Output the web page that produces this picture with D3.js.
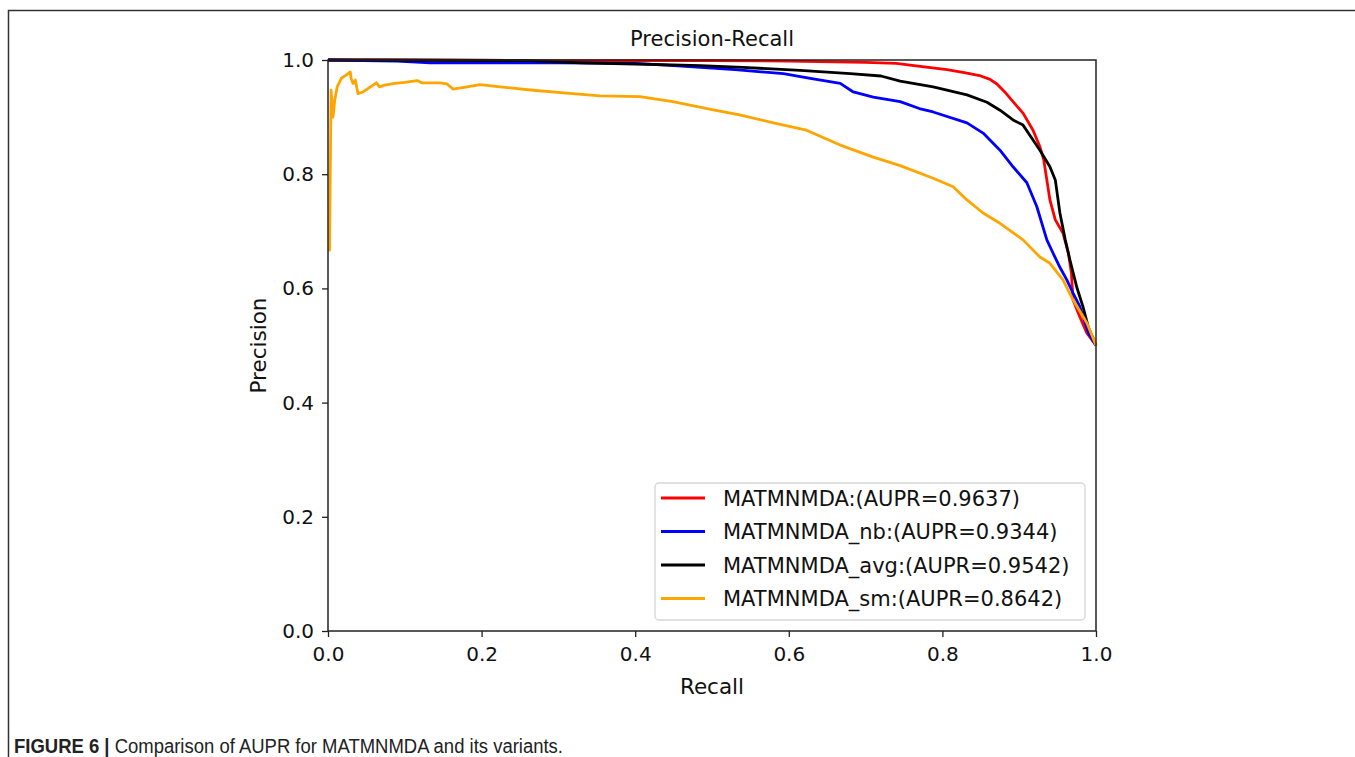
<!DOCTYPE html>
<html>
<head>
<meta charset="utf-8">
<script src="https://cdn.jsdelivr.net/npm/d3@7"></script>
<style>
  body { margin: 0; background: #fff; }
  svg { display: block; }
  .tick text { font-family: "DejaVu Sans", sans-serif; font-size: 20px; fill: #111; }
  .tick line { stroke: #222; stroke-width: 1.3; }
</style>
</head>
<body>
<div class="chart"></div>
<script>
// recall / precision pairs
const matmnmda = [
  [0, 1.0], [0.1, 1.0], [0.3, 0.999], [0.5, 0.999], [0.6, 0.998], [0.7, 0.996], [0.74, 0.994],
  [0.763, 0.99], [0.806, 0.983], [0.832, 0.977], [0.85, 0.972], [0.862, 0.966], [0.871, 0.958],
  [0.882, 0.943], [0.892, 0.927], [0.905, 0.907], [0.918, 0.877], [0.927, 0.848], [0.932, 0.825],
  [0.936, 0.79], [0.94, 0.755], [0.947, 0.72], [0.957, 0.697], [0.964, 0.662], [0.968, 0.627],
  [0.97, 0.58], [0.979, 0.55], [0.988, 0.522], [1.0, 0.5]
];
const matmnmdaNb = [
  [0, 1.0], [0.09, 0.998], [0.133, 0.995], [0.3, 0.995], [0.4, 0.994], [0.45, 0.99], [0.5, 0.986],
  [0.53, 0.983], [0.593, 0.976], [0.628, 0.968], [0.667, 0.959], [0.684, 0.944], [0.71, 0.935],
  [0.745, 0.927], [0.77, 0.915], [0.788, 0.909], [0.832, 0.89], [0.853, 0.872], [0.875, 0.842],
  [0.892, 0.813], [0.91, 0.785], [0.923, 0.743], [0.936, 0.685], [0.944, 0.662], [0.953, 0.637],
  [0.962, 0.615], [0.97, 0.592], [0.979, 0.568], [0.99, 0.522], [1.0, 0.5]
];
const matmnmdaAvg = [
  [0, 1.0], [0.05, 1.0], [0.26, 0.999], [0.33, 0.995], [0.4, 0.993], [0.485, 0.99], [0.54, 0.987],
  [0.615, 0.982], [0.68, 0.976], [0.72, 0.972], [0.745, 0.963], [0.788, 0.953], [0.832, 0.939],
  [0.858, 0.926], [0.875, 0.912], [0.892, 0.895], [0.905, 0.886], [0.918, 0.86], [0.927, 0.842],
  [0.94, 0.813], [0.947, 0.79], [0.953, 0.732], [0.96, 0.685], [0.966, 0.65], [0.975, 0.602],
  [0.983, 0.568], [0.99, 0.532], [0.997, 0.51], [1.0, 0.5]
];
const matmnmdaSm = [
  [0, 0.667], [0.002, 0.667], [0.004, 0.947], [0.0065, 0.9], [0.0087, 0.929], [0.012, 0.953],
  [0.0174, 0.968], [0.024, 0.974], [0.029, 0.979], [0.03, 0.968], [0.0326, 0.959], [0.0356, 0.965],
  [0.039, 0.941], [0.0456, 0.944], [0.052, 0.95], [0.0586, 0.956], [0.063, 0.96], [0.067, 0.953],
  [0.0738, 0.956], [0.087, 0.959], [0.1, 0.961], [0.116, 0.964], [0.122, 0.96], [0.146, 0.96],
  [0.155, 0.958], [0.163, 0.949], [0.181, 0.953], [0.198, 0.957], [0.224, 0.953], [0.267, 0.947],
  [0.311, 0.942], [0.354, 0.937], [0.406, 0.936], [0.449, 0.927], [0.5, 0.913], [0.536, 0.904],
  [0.58, 0.89], [0.623, 0.877], [0.667, 0.851], [0.71, 0.83], [0.745, 0.815], [0.788, 0.793],
  [0.814, 0.778], [0.832, 0.755], [0.853, 0.732], [0.875, 0.714], [0.905, 0.685], [0.927, 0.655],
  [0.94, 0.644], [0.957, 0.615], [0.97, 0.58], [0.988, 0.54], [1.0, 0.5]
];

const seriesNames = ["MATMNMDA", "MATMNMDA_nb", "MATMNMDA_avg", "MATMNMDA_sm"];
const auprValues = [0.9637, 0.9344, 0.9542, 0.8642];
const seriesData = [matmnmda, matmnmdaNb, matmnmdaAvg, matmnmdaSm];
const seriesColors = ["#ff0000", "#0000ff", "#000000", "#ffa500"];
const tickValues = [0, 0.2, 0.4, 0.6, 0.8, 1.0];

const width = 1355, height = 757;
const margin = { left: 328, right: 1096, top: 60, bottom: 631 };

const svg = d3.select(".chart").append("svg")
    .attr("width", width)
    .attr("height", height);

// figure frame (top + left edge only)
svg.append("path")
    .attr("d", `M8.5,${height} V10.5 H${width}`)
    .attr("fill", "none")
    .attr("stroke", "#333")
    .attr("stroke-width", 1.5);

const x = d3.scaleLinear().domain([0, 1]).range([margin.left, margin.right]);
const y = d3.scaleLinear().domain([0, 1]).range([margin.bottom, margin.top]);

const line = d3.line()
    .x(d => x(d[0]))
    .y(d => y(d[1]));

const plot = svg.append("g");

// curves
seriesData.forEach((pts, i) => {
    plot.append("path")
        .datum(pts)
        .attr("d", line)
        .attr("fill", "none")
        .attr("stroke", seriesColors[i])
        .attr("stroke-width", 2.8)
        .attr("stroke-linejoin", "round");
});

// axes
svg.append("g")
    .attr("transform", `translate(0,${margin.bottom})`)
    .call(d3.axisBottom(x).tickValues(tickValues).tickFormat(d3.format(".1f")).tickSize(6).tickPadding(10))
    .call(g => g.select(".domain").remove());

svg.append("g")
    .attr("transform", `translate(${margin.left},0)`)
    .call(d3.axisLeft(y).tickValues(tickValues).tickFormat(d3.format(".1f")).tickSize(6).tickPadding(8))
    .call(g => g.select(".domain").remove());

// box
svg.append("rect")
    .attr("x", margin.left)
    .attr("y", margin.top)
    .attr("width", margin.right - margin.left)
    .attr("height", margin.bottom - margin.top)
    .attr("fill", "none")
    .attr("stroke", "#222")
    .attr("stroke-width", 1.5);

// titles
svg.append("text")
    .attr("x", (margin.left + margin.right) / 2)
    .attr("y", 46)
    .attr("text-anchor", "middle")
    .style("font-family", "DejaVu Sans")
    .style("font-size", "21px")
    .attr("fill", "#111")
    .text("Precision-Recall");

svg.append("text")
    .attr("x", (margin.left + margin.right) / 2)
    .attr("y", 694)
    .attr("text-anchor", "middle")
    .style("font-family", "DejaVu Sans")
    .style("font-size", "21.5px")
    .attr("fill", "#111")
    .text("Recall");

svg.append("text")
    .attr("transform", `translate(266,${(margin.top + margin.bottom) / 2}) rotate(-90)`)
    .attr("text-anchor", "middle")
    .style("font-family", "DejaVu Sans")
    .style("font-size", "21.5px")
    .attr("fill", "#111")
    .text("Precision");

// legend
const legend = svg.append("g").attr("transform", "translate(655,483)");
legend.append("rect")
    .attr("width", 430)
    .attr("height", 137)
    .attr("rx", 4)
    .attr("fill", "#fff")
    .attr("fill-opacity", 0.85)
    .attr("stroke", "#d6d6d6")
    .attr("stroke-width", 1.3);

const item = legend.selectAll(".item")
    .data(seriesNames)
    .join("g")
    .attr("transform", (d, i) => `translate(0,${15 + i * 33.5})`);

item.append("line")
    .attr("x1", 6).attr("x2", 50)
    .attr("stroke", (d, i) => seriesColors[i])
    .attr("stroke-width", 2.8);

item.append("text")
    .attr("x", 68)
    .attr("y", 7.5)
    .style("font-family", "DejaVu Sans")
    .style("font-size", "21px")
    .attr("fill", "#111")
    .text((d, i) => `${d}:(AUPR=${auprValues[i].toFixed(4)})`);

// caption
const caption = svg.append("text")
    .attr("x", 14)
    .attr("y", 753)
    .attr("textLength", 549)
    .attr("lengthAdjust", "spacingAndGlyphs")
    .style("font-family", "Liberation Sans, Arial, sans-serif")
    .style("font-size", "20px")
    .attr("fill", "#222");
caption.append("tspan").style("font-weight", "bold").text("FIGURE 6 | ");
caption.append("tspan").text("Comparison of AUPR for MATMNMDA and its variants.");
</script>
</body>
</html>
